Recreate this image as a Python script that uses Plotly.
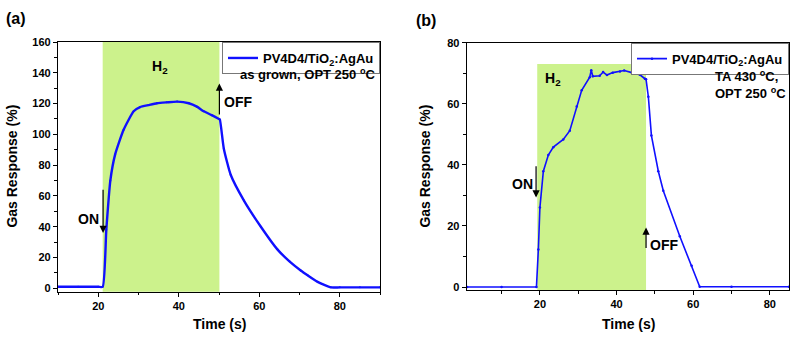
import plotly.graph_objects as go

# ---- data: panel (a) ----
t_a = [10, 15, 20, 21.1, 22.0, 23.0, 24.2, 26.3, 28.8, 30.4, 32.5, 34.6, 37.0, 39.6, 42.5, 44.5, 46.2, 48.2, 50.0,
       50.2, 51.2, 52.9, 56.2, 60.4, 64.5, 67.5, 70.3, 72.0, 74.5, 77.8, 80, 85, 90]
r_a = [1, 1, 1, 1, 38, 70, 87, 103, 115, 117.7, 119, 120.2, 120.8, 121.3, 120.2, 118, 115, 112.5, 110,
       109.7, 90.7, 73.8, 57, 40, 25.3, 17.5, 11.6, 8.5, 4.2, 0.6, 0.6, 0.6, 0.6]
# ---- data: panel (b) ----
t_b = [1, 10, 19.1, 19.6, 20.0, 20.9, 22.2, 23.5, 26.1, 27.8, 29.6, 30.9, 33.0, 33.4, 33.8, 35.6, 36.5, 37.5, 39.0,
       40.9, 42.0, 44.0, 46.1, 47.4, 47.7, 48.3, 49.1, 50.9, 52.2, 56.5, 59.6, 61.7, 70, 85]
r_b = [0, 0, 0, 12.3, 26, 37.9, 43.2, 45.8, 48.3, 51.2, 59.1, 64.4, 68.7, 71.0, 69.0, 69.2, 70.4, 69.4, 70.2,
       70.6, 70.9, 70.2, 69.5, 68.2, 68.0, 62.3, 49.6, 37.9, 31.5, 16.6, 7.0, 0.1, 0.1, 0.1]
h2_a = [21.1, 50.1]
h2_b = [19.3, 47.7]
legend_name = "PV4D4/TiO<sub>2</sub>:AgAu"

W, H = 795, 338
FONT = "Liberation Sans, Arial, sans-serif"
BLUE = "#1010ff"
GREEN = "rgb(204,242,140)"

def px(v):
    return v / W

def py(v):
    return 1 - v / H

fig = go.Figure()
fig.add_trace(go.Scatter(x=t_a, y=r_a, mode="lines+markers", name=legend_name,
                         line=dict(color=BLUE, width=2.4, shape="spline", smoothing=0.5),
                         marker=dict(size=2, color=BLUE),
                         xaxis="x", yaxis="y", legend="legend"))
fig.add_trace(go.Scatter(x=t_b, y=r_b, mode="lines+markers", name=legend_name,
                         line=dict(color=BLUE, width=1.6), marker=dict(size=2.5, color=BLUE),
                         xaxis="x2", yaxis="y2", legend="legend2"))

ax_common = dict(showline=True, linecolor="black", linewidth=1.2, mirror=True, ticks="outside",
                 ticklen=4, tickwidth=1, tickcolor="black", showgrid=False, zeroline=False,
                 tickfont=dict(family=FONT, size=11, color="black", weight="bold"))
minor = dict(dtick=10, ticks="outside", ticklen=2.5, tickcolor="black")

fig.update_layout(
    width=W, height=H, margin=dict(l=0, r=0, t=0, b=0),
    paper_bgcolor="white", plot_bgcolor="white",
    xaxis=dict(domain=[px(58), px(380)], range=[10, 90], dtick=20, tick0=0,
               anchor="y", minor=minor, **ax_common),
    yaxis=dict(domain=[py(293.5), py(37)], range=[-2.2, 160], dtick=20, tick0=0,
               anchor="x", minor=minor, **ax_common),
    xaxis2=dict(domain=[px(466.7), px(789)], range=[0.9, 85], dtick=20, tick0=0,
                anchor="y2", minor=minor, **ax_common),
    yaxis2=dict(domain=[py(291.7), py(37.7)], range=[-0.96, 80], dtick=20, tick0=0,
                anchor="x2", minor=minor, **ax_common),
    legend=dict(x=px(380), y=py(37), xanchor="right", yanchor="top",
                bgcolor="white", bordercolor="#777", borderwidth=1,
                font=dict(family=FONT, size=13, color="black", weight="bold"),
                itemwidth=30, tracegroupgap=0),
    legend2=dict(x=px(789), y=py(37.7), xanchor="right", yanchor="top",
                 bgcolor="white", bordercolor="#777", borderwidth=1,
                 font=dict(family=FONT, size=13, color="black", weight="bold"),
                 itemwidth=30, tracegroupgap=0),
    showlegend=True,
)

# H2 shaded regions
fig.add_shape(type="rect", xref="x", yref="y domain", x0=h2_a[0], x1=h2_a[1], y0=0, y1=1,
              fillcolor=GREEN, line=dict(width=0), layer="below")
fig.add_shape(type="rect", xref="x2", yref="y2", x0=h2_b[0], x1=h2_b[1], y0=-0.96, y1=73,
              fillcolor=GREEN, line=dict(width=0), layer="below")

def txt(x, y, text, xref, yref, size=12, xanchor="center", yanchor="middle", align="center", **kw):
    fig.add_annotation(x=x, y=y, xref=xref, yref=yref, text=text, showarrow=False,
                       xanchor=xanchor, yanchor=yanchor, align=align,
                       font=dict(family=FONT, size=size, color="black", weight="bold"), **kw)

def arrow(x, y_tail, y_head, xr, yr):
    fig.add_annotation(x=x, y=y_head, ax=x, ay=y_tail, xref=xr, yref=yr, axref=xr, ayref=yr,
                       text="", showarrow=True, arrowhead=2, arrowsize=1.2, arrowwidth=1.2,
                       arrowcolor="black")

# panel (a) annotations
txt(35.4, 144, "H<sub>2</sub>", "x", "y", size=14)
txt(px(378), py(70), "as grown, OPT 250 <sup>o</sup>C", "paper", "paper", size=13, xanchor="right")
arrow(50.1, 112, 133, "x", "y")
txt(50.8, 121, "OFF", "x", "y", size=14, xanchor="left")
arrow(21.2, 65, 36, "x", "y")
txt(20.6, 45, "ON", "x", "y", size=14, xanchor="right")

# panel (b) annotations
txt(23.4, 68, "H<sub>2</sub>", "x2", "y2", size=14)
txt(px(713), py(81), "TA 430 <sup>o</sup>C,<br>OPT 250 <sup>o</sup>C", "paper", "paper", size=13,
    xanchor="left", align="left")
arrow(19.0, 40, 29.3, "x2", "y2")
txt(18.6, 33.6, "ON", "x2", "y2", size=14, xanchor="right")
arrow(47.7, 12.3, 19.5, "x2", "y2")
txt(48.1, 13.8, "OFF", "x2", "y2", size=14, xanchor="left")

# axis titles
txt(px(12), py(165), "Gas Response (%)", "paper", "paper", size=14, textangle=-90)
txt(px(425), py(165), "Gas Response (%)", "paper", "paper", size=14, textangle=-90)
txt(px(219), py(327), "Time (s)", "paper", "paper", size=14)
txt(px(628), py(327), "Time (s)", "paper", "paper", size=14)

# panel labels
txt(px(4), py(13), "(a)", "paper", "paper", size=16, xanchor="left")
txt(px(414), py(15), "(b)", "paper", "paper", size=16, xanchor="left")

fig.write_html("out.html")
